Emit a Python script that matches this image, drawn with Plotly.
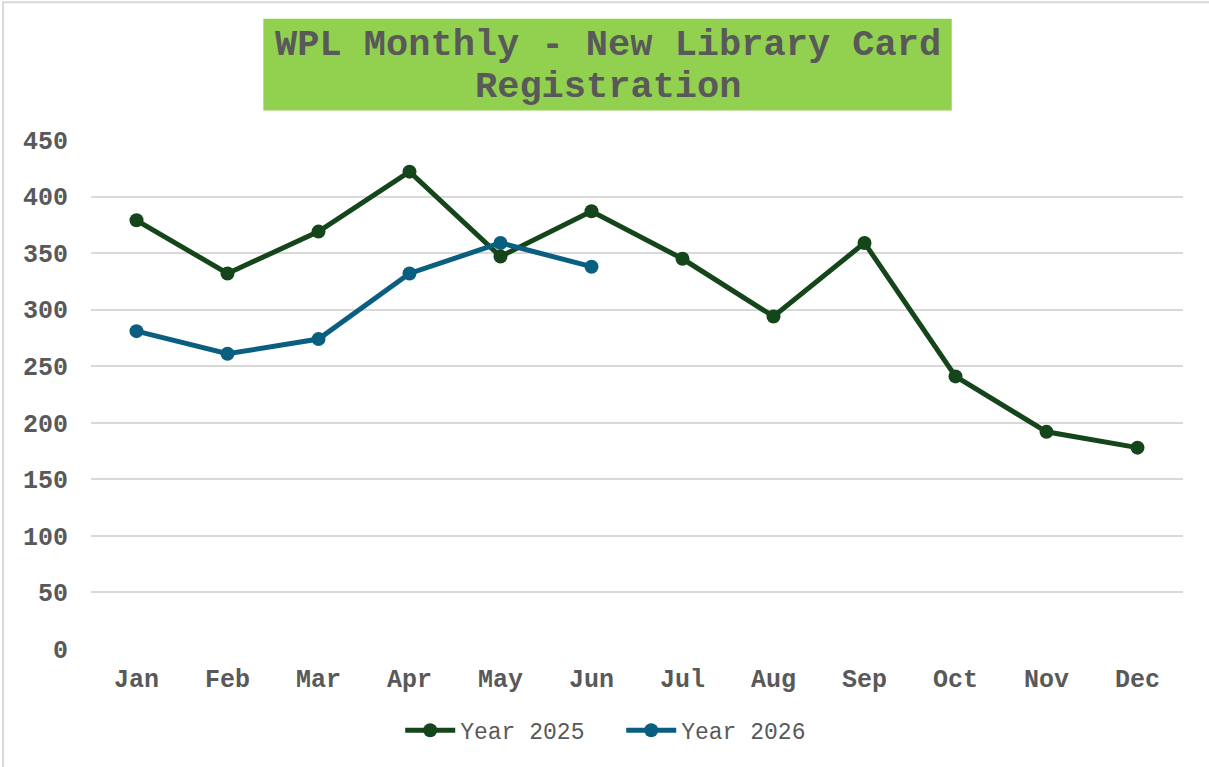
import plotly.graph_objects as go

months = ["Jan", "Feb", "Mar", "Apr", "May", "Jun", "Jul", "Aug", "Sep", "Oct", "Nov", "Dec"]
year_2025 = [379, 332, 369, 422, 347, 387, 345, 294, 359, 241, 192, 178]
year_2026 = [281, 261, 274, 332, 359, 338]
y_ticks = [0, 50, 100, 150, 200, 250, 300, 350, 400, 450]
title_line1 = "WPL Monthly - New Library Card"
title_line2 = "Registration"

FONT = "Courier New, Liberation Mono, monospace"
GREY = "#595959"

W, H = 1209, 767
L, R, T, B = 90.5, 25.5, 139.5, 117.5
PW, PH = W - L - R, H - T - B


def px(x):
    return (x - L) / PW


def py(y):
    return (H - B - y) / PH


fig = go.Figure()
fig.add_trace(go.Scatter(
    x=months, y=year_2025, name="Year 2025", mode="lines+markers",
    line=dict(color="#15451A", width=5), marker=dict(size=14, color="#15451A"),
))
fig.add_trace(go.Scatter(
    x=months[:len(year_2026)], y=year_2026, name="Year 2026", mode="lines+markers",
    line=dict(color="#0A5F81", width=5), marker=dict(size=14, color="#0A5F81"),
))

fig.update_layout(
    width=W, height=H,
    margin=dict(l=L, r=R, t=T, b=B, autoexpand=False),
    paper_bgcolor="white", plot_bgcolor="white",
    showlegend=True,
    legend=dict(orientation="h", x=px(400), xanchor="left", y=py(731), yanchor="middle",
                font=dict(family=FONT, size=23, color=GREY), itemwidth=50,
                entrywidth=156, entrywidthmode="pixels",
                traceorder="normal"),
    xaxis=dict(categoryorder="array", categoryarray=months, range=[-0.5, 11.5],
               showgrid=False, zeroline=False, showline=False, ticks="",
               tickfont=dict(family=FONT, size=25, color=GREY, weight="bold"),
               ticklabelstandoff=12, fixedrange=True),
    yaxis=dict(range=[0, 450], tickvals=y_ticks, showgrid=True, gridcolor="#D9D9D9",
               gridwidth=1.5, zeroline=False, showline=False, ticks="",
               tickfont=dict(family=FONT, size=25, color=GREY, weight="bold"),
               ticklabelstandoff=22, fixedrange=True),
    shapes=[
        dict(type="rect", xref="paper", yref="paper", x0=px(263), x1=px(952), y0=py(110), y1=py(18),
             fillcolor="#92D050", line=dict(width=0), layer="below"),
        dict(type="rect", xref="paper", yref="paper", x0=px(2.5), x1=px(1230), y0=py(790), y1=py(1.5),
             fillcolor="rgba(0,0,0,0)", line=dict(color="#D9D9D9", width=2)),
    ],
    annotations=[
        dict(text=title_line1, xref="paper", yref="paper", x=px(608), y=py(44), xanchor="center",
             yanchor="middle", showarrow=False, font=dict(family=FONT, size=37, color=GREY, weight="bold")),
        dict(text=title_line2, xref="paper", yref="paper", x=px(608), y=py(86), xanchor="center",
             yanchor="middle", showarrow=False, font=dict(family=FONT, size=37, color=GREY, weight="bold")),
    ],
)

fig.write_html("out.html", config={"displayModeBar": False},
               post_script="document.body.style.margin='0';document.body.style.overflow='hidden';")
